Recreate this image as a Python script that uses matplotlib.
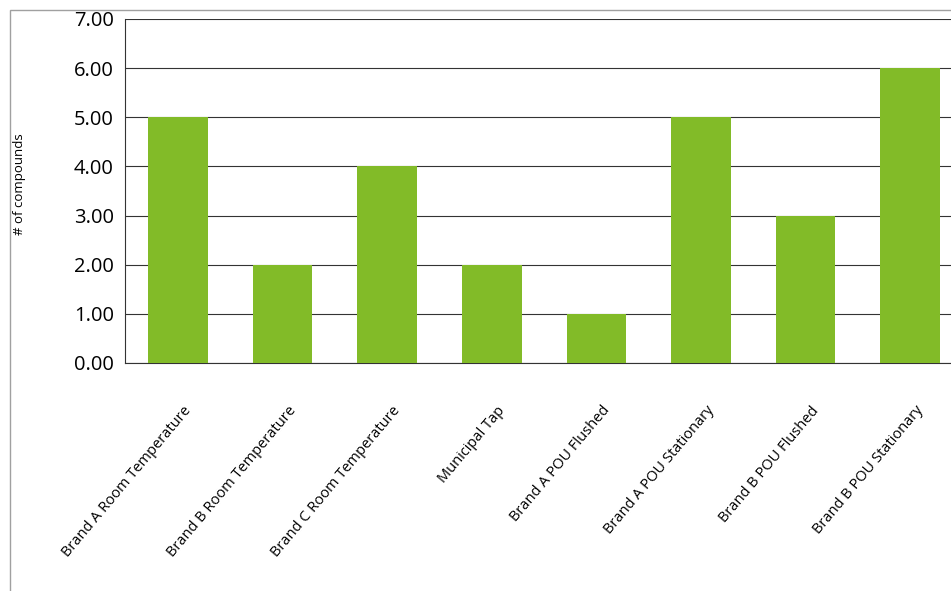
import matplotlib
matplotlib.use("Agg")
import matplotlib.pyplot as plt
import matplotlib.transforms as mtransforms
from matplotlib.patches import Rectangle

categories = ["Brand A Room Temperature", "Brand B Room Temperature", "Brand C Room Temperature",
              "Municipal Tap", "Brand A POU Flushed", "Brand A POU Stationary",
              "Brand B POU Flushed", "Brand B POU Stationary"]
values = [5, 2, 4, 2, 1, 5, 3, 6]
yticks = [0, 1, 2, 3, 4, 5, 6, 7]

plt.rcParams['font.family'] = ['Open Sans', 'DejaVu Sans']
fig = plt.figure(figsize=(9.51, 5.91), dpi=100)
fig.patches.append(Rectangle((10/951, -0.1), 2, 1 - 10/591 + 0.1, transform=fig.transFigure,
                             fill=False, edgecolor='#a0a0a0', linewidth=1))
W, H = 951, 591
ax = fig.add_axes([125/W, 1 - 363/H, (W - 125)/W, (363 - 19)/H])
x = list(range(len(categories)))
ax.bar(x, values, width=0.57, color='#82bb28', zorder=3)
ax.set_xlim(-0.507, 7.39)
ax.set_ylim(0, 7)
ax.set_yticks(yticks)
ax.set_yticklabels([f"{v:.2f}" for v in yticks], fontsize=14.5)
ax.yaxis.grid(True, color='#333333', linewidth=0.8, zorder=0)
for s in ['top', 'right']:
    ax.spines[s].set_visible(False)
ax.spines['left'].set_color('#333333')
ax.spines['bottom'].set_color('#333333')
ax.tick_params(axis='y', length=0, pad=8)
ax.tick_params(axis='x', length=0, pad=29)
ax.set_xticks(x)
ax.set_xticklabels(categories, rotation=50, ha='right', rotation_mode='anchor', fontsize=10.5)
off = mtransforms.ScaledTranslation(0.05, 0, fig.dpi_scale_trans)
for lbl in ax.get_xticklabels():
    lbl.set_transform(lbl.get_transform() + off)
ax.set_ylabel("# of compounds", fontsize=9.5)
ax.yaxis.set_label_coords(-0.12, 0.52)
fig.savefig("out.png", dpi=100)
